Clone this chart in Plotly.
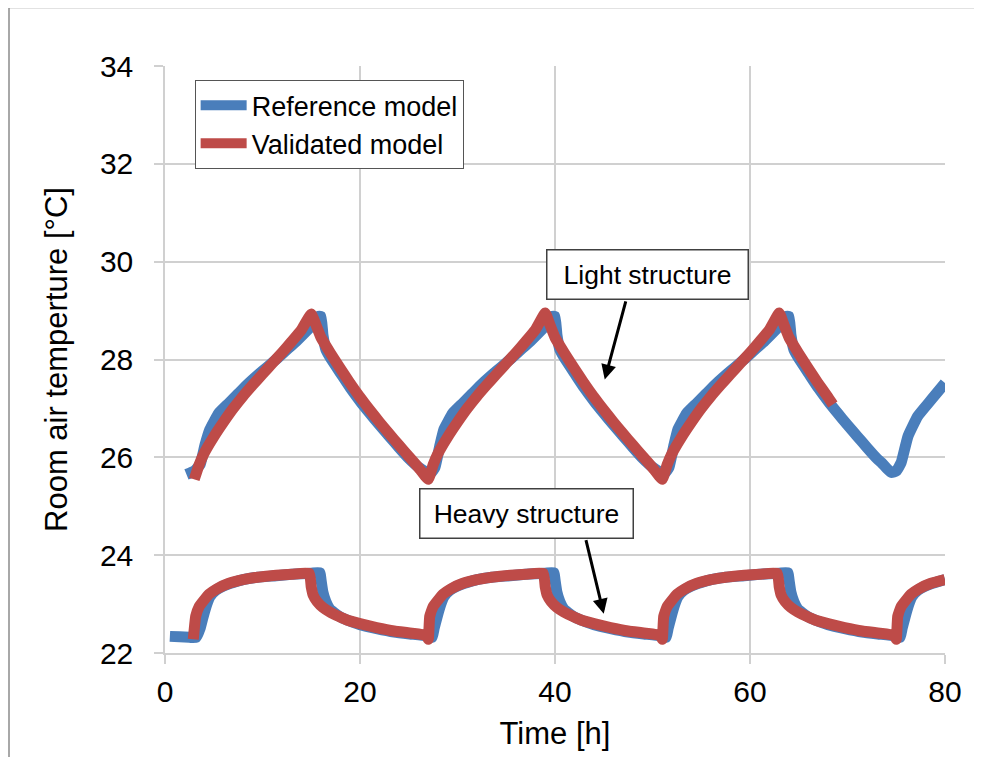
import plotly.graph_objects as go

# ---------------- data ----------------
# Reference model, light structure
ref_light_t = [2.2, 3.0, 3.6, 4.1, 4.6, 5.5, 6.5, 7.5, 8.5, 9.5, 10.5, 11.5, 12.5, 13.5, 14.5, 15.3, 15.7, 16.0, 16.2, 16.5,
               17.0, 18.0, 19.0, 20.0, 21.0, 22.0, 23.0, 24.0, 25.0, 26.0, 26.8, 27.3,
               27.7, 28.2, 28.6, 29.5, 30.5, 31.5, 32.5, 33.5, 34.5, 35.5, 36.5, 37.5, 38.5, 39.3, 39.7, 40.0, 40.2, 40.5,
               41.0, 42.0, 43.0, 44.0, 45.0, 46.0, 47.0, 48.0, 49.0, 50.0, 50.8, 51.3,
               51.7, 52.2, 52.6, 53.5, 54.5, 55.5, 56.5, 57.5, 58.5, 59.5, 60.5, 61.5, 62.5, 63.3, 63.7, 64.0, 64.2, 64.5,
               65.0, 66.0, 67.0, 68.0, 69.0, 70.0, 71.0, 72.0, 73.0, 73.5, 74.0, 74.5, 75.0, 75.5, 76.2, 77.2, 78.6, 80.0]
ref_light_T = [25.65, 25.72, 25.85, 26.25, 26.57, 26.9, 27.1, 27.3, 27.5, 27.68, 27.85, 28.02, 28.2, 28.38, 28.58, 28.75, 28.88, 28.88, 28.5, 28.2,
               28.02, 27.72, 27.42, 27.15, 26.9, 26.66, 26.43, 26.2, 25.98, 25.8, 25.7, 25.68,
               25.8, 26.25, 26.57, 26.9, 27.1, 27.3, 27.5, 27.68, 27.85, 28.02, 28.2, 28.38, 28.58, 28.75, 28.88, 28.88, 28.5, 28.2,
               28.02, 27.72, 27.42, 27.15, 26.9, 26.66, 26.43, 26.2, 25.98, 25.8, 25.7, 25.68,
               25.8, 26.25, 26.57, 26.9, 27.1, 27.3, 27.5, 27.68, 27.85, 28.02, 28.2, 28.38, 28.58, 28.75, 28.88, 28.88, 28.5, 28.2,
               28.02, 27.72, 27.42, 27.15, 26.9, 26.66, 26.43, 26.2, 25.98, 25.89, 25.78, 25.69, 25.72, 25.89, 26.43, 26.84, 27.18, 27.52]

# Validated model, light structure
val_light_t = [3.0, 3.5, 4.0, 5.0, 6.0, 7.0, 8.0, 9.0, 10.0, 11.0, 12.0, 13.0, 14.0, 15.0, 15.5, 16.0, 17.0, 18.0, 19.0, 20.0,
               21.0, 22.0, 23.0, 24.0, 25.0, 26.0, 27.0,
               27.5, 28.0, 29.0, 30.0, 31.0, 32.0, 33.0, 34.0, 35.0, 36.0, 37.0, 38.0, 39.0, 39.5, 40.0, 41.0, 42.0, 43.0, 44.0,
               45.0, 46.0, 47.0, 48.0, 49.0, 50.0, 51.0,
               51.5, 52.0, 53.0, 54.0, 55.0, 56.0, 57.0, 58.0, 59.0, 60.0, 61.0, 62.0, 63.0, 63.5, 64.0, 65.0, 66.0, 67.0, 68.0, 68.5]
val_light_T = [25.55, 25.85, 26.08, 26.42, 26.72, 27.0, 27.25, 27.48, 27.7, 27.92, 28.14, 28.37, 28.61, 28.93, 28.7, 28.45, 28.12, 27.81, 27.51, 27.23,
               26.97, 26.72, 26.48, 26.25, 26.02, 25.79, 25.55,
               25.85, 26.08, 26.42, 26.72, 27.0, 27.25, 27.48, 27.7, 27.92, 28.14, 28.37, 28.61, 28.95, 28.7, 28.45, 28.12, 27.81, 27.51, 27.23,
               26.97, 26.72, 26.48, 26.25, 26.02, 25.79, 25.55,
               25.85, 26.08, 26.42, 26.72, 27.0, 27.25, 27.48, 27.7, 27.92, 28.14, 28.37, 28.61, 28.95, 28.7, 28.45, 28.12, 27.81, 27.51, 27.23, 27.08]

# Reference model, heavy structure
ref_heavy_t = [0.5, 1.5, 2.5, 3.2, 3.6, 3.9, 4.3, 4.6, 5.2, 6.0, 7.0, 8.0, 9.5, 11.4, 13.0, 15.0, 15.9,
               16.0, 16.2, 16.5, 16.9, 17.8, 18.6, 20.0, 21.7, 23.5, 25.1, 26.8, 27.4,
               27.6, 27.9, 28.3, 28.6, 29.2, 30.0, 31.0, 32.0, 33.5, 35.4, 37.0, 39.0, 39.9,
               40.0, 40.2, 40.5, 40.9, 41.8, 42.6, 44.0, 45.7, 47.5, 49.1, 50.8, 51.4,
               51.6, 51.9, 52.3, 52.6, 53.2, 54.0, 55.0, 56.0, 57.5, 59.4, 61.0, 63.0, 63.9,
               64.0, 64.2, 64.5, 64.9, 65.8, 66.6, 68.0, 69.7, 71.5, 73.1, 74.8, 75.4,
               75.6, 75.9, 76.3, 76.6, 77.2, 78.0, 79.0, 80.0]
ref_heavy_T = [22.34, 22.33, 22.32, 22.32, 22.5, 22.73, 23.0, 23.15, 23.28, 23.37, 23.44, 23.5, 23.55, 23.58, 23.61, 23.63, 23.64,
               23.5, 23.24, 23.05, 22.9, 22.76, 22.68, 22.58, 22.5, 22.43, 22.39, 22.35, 22.32,
               22.5, 22.73, 23.0, 23.15, 23.28, 23.37, 23.44, 23.5, 23.55, 23.58, 23.61, 23.63, 23.64,
               23.5, 23.24, 23.05, 22.9, 22.76, 22.68, 22.58, 22.5, 22.43, 22.39, 22.35, 22.32,
               22.5, 22.73, 23.0, 23.15, 23.28, 23.37, 23.44, 23.5, 23.55, 23.58, 23.61, 23.63, 23.64,
               23.5, 23.24, 23.05, 22.9, 22.76, 22.68, 22.58, 22.5, 22.43, 22.39, 22.35, 22.32,
               22.5, 22.73, 23.0, 23.15, 23.28, 23.37, 23.44, 23.5]

# Validated model, heavy structure
val_heavy_t = [2.9, 3.15, 3.5, 4.0, 4.5, 5.3, 6.5, 8.0, 9.5, 11.4, 13.0, 14.8,
               15.0, 15.2, 15.6, 16.2, 16.9, 17.8, 18.6, 20.0, 21.7, 23.5, 25.1, 26.8, 27.0,
               27.15, 27.5, 28.0, 28.5, 29.3, 30.5, 32.0, 33.5, 35.4, 37.0, 38.8,
               39.0, 39.2, 39.6, 40.2, 40.9, 41.8, 42.6, 44.0, 45.7, 47.5, 49.1, 50.8, 51.0,
               51.15, 51.5, 52.0, 52.5, 53.3, 54.5, 56.0, 57.5, 59.4, 61.0, 62.8,
               63.0, 63.2, 63.6, 64.2, 64.9, 65.8, 66.6, 68.0, 69.7, 71.5, 73.1, 74.8, 75.0,
               75.15, 75.5, 76.0, 76.5, 77.3, 78.5, 80.0]
val_heavy_T = [22.28, 22.75, 22.95, 23.08, 23.2, 23.31, 23.42, 23.5, 23.55, 23.59, 23.61, 23.63,
               23.35, 23.18, 23.05, 22.93, 22.84, 22.75, 22.68, 22.6, 22.52, 22.45, 22.41, 22.36, 22.28,
               22.75, 22.95, 23.08, 23.2, 23.31, 23.42, 23.5, 23.55, 23.59, 23.61, 23.63,
               23.35, 23.18, 23.05, 22.93, 22.84, 22.75, 22.68, 22.6, 22.52, 22.45, 22.41, 22.36, 22.28,
               22.75, 22.95, 23.08, 23.2, 23.31, 23.42, 23.5, 23.55, 23.59, 23.61, 23.63,
               23.35, 23.18, 23.05, 22.93, 22.84, 22.75, 22.68, 22.6, 22.52, 22.45, 22.41, 22.36, 22.28,
               22.75, 22.95, 23.08, 23.2, 23.31, 23.42, 23.5]

x_ticks = [0, 20, 40, 60, 80]
y_ticks = [22, 24, 26, 28, 30, 32, 34]

assert len(ref_light_t) == len(ref_light_T)
assert len(val_light_t) == len(val_light_T)
assert len(ref_heavy_t) == len(ref_heavy_T)
assert len(val_heavy_t) == len(val_heavy_T)

BLUE = "#4A7EBB"
RED = "#BE4B48"
GRID = "#D0D0D0"
FONT = "Liberation Sans, Arial, sans-serif"
LW = 11
SMOOTH = 0.35

fig = go.Figure()
fig.add_trace(go.Scatter(x=ref_light_t, y=ref_light_T, mode="lines", name="Reference model",
                         line=dict(color=BLUE, width=LW, shape="spline", smoothing=SMOOTH), legendgroup="ref"))
fig.add_trace(go.Scatter(x=ref_heavy_t, y=ref_heavy_T, mode="lines", name="Reference model",
                         line=dict(color=BLUE, width=LW, shape="spline", smoothing=SMOOTH), legendgroup="ref",
                         showlegend=False))
fig.add_trace(go.Scatter(x=val_light_t, y=val_light_T, mode="lines", name="Validated model",
                         line=dict(color=RED, width=LW, shape="spline", smoothing=SMOOTH), legendgroup="val"))
fig.add_trace(go.Scatter(x=val_heavy_t, y=val_heavy_T, mode="lines", name="Validated model",
                         line=dict(color=RED, width=LW, shape="spline", smoothing=SMOOTH), legendgroup="val",
                         showlegend=False))

# arrows first, text boxes on top
fig.add_annotation(x=45.1, y=27.59, ax=47.3, ay=29.22, xref="x", yref="y", axref="x", ayref="y",
                   text="", showarrow=True, arrowhead=2, arrowsize=1, arrowwidth=3, arrowcolor="black")
fig.add_annotation(x=45.0, y=22.8, ax=43.14, ay=24.34, xref="x", yref="y", axref="x", ayref="y",
                   text="", showarrow=True, arrowhead=2, arrowsize=1, arrowwidth=3, arrowcolor="black")
fig.add_annotation(x=49.5, y=29.73, xref="x", yref="y", text="Light structure", showarrow=False,
                   font=dict(family=FONT, size=26.5, color="black"), bgcolor="white",
                   bordercolor="#404040", borderwidth=1.5, borderpad=4, width=192, height=40)
fig.add_annotation(x=37.03, y=24.86, xref="x", yref="y", text="Heavy structure", showarrow=False,
                   font=dict(family=FONT, size=26.5, color="black"), bgcolor="white",
                   bordercolor="#404040", borderwidth=1.5, borderpad=4, width=204, height=40)

# outer frame of the picture (left and top edges visible)
fig.add_shape(type="rect", xref="paper", yref="paper", x0=-0.2, x1=1.2, y0=-0.3, y1=1.0995,
              line=dict(color="#8C8C8C", width=1.5), fillcolor="rgba(0,0,0,0)", layer="above")

fig.update_layout(
    width=966, height=749,
    margin=dict(l=157, r=27, t=58, b=103),
    paper_bgcolor="white", plot_bgcolor="white",
    font=dict(family=FONT, color="black"),
    showlegend=True,
    legend=dict(x=0.038, y=0.976, xanchor="left", yanchor="top",
                bgcolor="white", bordercolor="#555555", borderwidth=1,
                font=dict(family=FONT, size=27, color="black"), tracegroupgap=0,
                itemwidth=46),
    xaxis=dict(range=[0, 80], tickvals=x_ticks, showgrid=True, gridcolor=GRID, gridwidth=1.5,
               zeroline=False, showline=True, linecolor=GRID, linewidth=1.5,
               ticks="outside", ticklen=9, tickcolor=GRID, tickwidth=1.5,
               tickfont=dict(family=FONT, size=30, color="black"), ticklabelstandoff=2,
               title=dict(text="Time [h]", font=dict(family=FONT, size=31, color="black"), standoff=16)),
    yaxis=dict(range=[22, 34], tickvals=y_ticks, showgrid=True, gridcolor=GRID, gridwidth=1.5,
               zeroline=False, showline=True, linecolor=GRID, linewidth=1.5,
               ticks="outside", ticklen=9, tickcolor=GRID, tickwidth=1.5,
               tickfont=dict(family=FONT, size=30, color="black"), ticklabelstandoff=15,
               title=dict(text="Room air temperture [°C]", font=dict(family=FONT, size=31, color="black"), standoff=23)),
)

fig.write_html("out.html")
